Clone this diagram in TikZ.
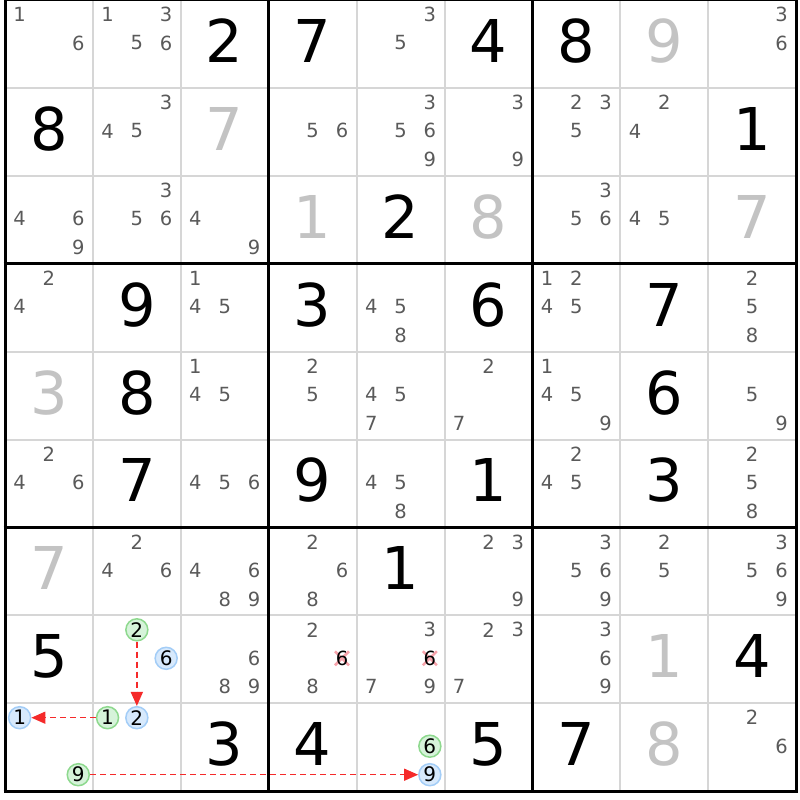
\documentclass[tikz,border=0pt]{standalone}
\usepackage{fontspec}
\setmainfont{DejaVu Sans}
\usetikzlibrary{calc,positioning,arrows.meta}
\definecolor{candgray}{HTML}{5A5A5A}
\definecolor{givengray}{HTML}{C3C3C3}
\definecolor{thingray}{HTML}{D6D6D6}
\definecolor{linkgreen}{HTML}{8ED98E}
\definecolor{fillgreen}{HTML}{D6F3DA}
\definecolor{linkblue}{HTML}{A3CDF7}
\definecolor{fillblue}{HTML}{D7E9FC}
\definecolor{linkred}{HTML}{F52A2A}
\definecolor{crosspink}{HTML}{F7A3AB}

\begin{document}
\begin{tikzpicture}[x=1pt,y=-1pt]
\tikzstyle{cand}=[inner sep=0pt, text=candgray, font=\fontsize{19.5}{19.5}\selectfont]
\tikzstyle{big}=[inner sep=0pt, font=\fontsize{59}{59}\selectfont]
\tikzstyle{gcand}=[circle, draw=linkgreen, fill=fillgreen, line width=1.5pt, minimum size=22pt, inner sep=0pt, font=\fontsize{20}{20}\selectfont]
\tikzstyle{bcand}=[gcand, draw=linkblue, fill=fillblue]
\tikzstyle{link}=[linkred, line width=1.5pt, dash pattern=on 6pt off 4pt, -{Triangle[length=14pt,width=12pt]}]
\def\cs{87.9}
\fill[white] (0,0) rectangle (800,800);
\useasboundingbox (0,0) rectangle (800,800);
% grid
\foreach \i in {1,2,4,5,7,8}{
\draw[thingray, line width=2pt] ({5+\i*\cs},0) -- ({5+\i*\cs},791);
\draw[thingray, line width=2pt] (5,{\i*\cs}) -- (796,{\i*\cs});
}
\foreach \i in {0,3,6,9}{
\draw[line width=3pt] ({5+\i*\cs},-1.5) -- ({5+\i*\cs},792.5);
\draw[line width=3pt] (3.5,{\i*\cs}) -- (797.5,{\i*\cs});
}
% solved and given digits
\foreach \r/\c/\d in {0/2/2, 0/3/7, 0/5/4, 0/6/8, 1/0/8, 1/8/1, 2/4/2, 3/1/9, 3/3/3, 3/5/6, 3/7/7, 4/1/8, 4/7/6, 5/1/7, 5/3/9, 5/5/1, 5/7/3, 6/4/1, 7/0/5, 7/8/4, 8/2/3, 8/3/4, 8/5/5, 8/6/7}{
\node[big] (g\r\c) at ({5+(\c+0.5)*\cs},{(\r+0.5)*\cs-3}) {\d};
}
\foreach \r/\c/\d in {0/7/9, 1/2/7, 2/3/1, 2/5/8, 2/8/7, 4/0/3, 6/0/7, 7/7/1, 8/7/8}{
\node[big, text=givengray] (g\r\c) at ({5+(\c+0.5)*\cs},{(\r+0.5)*\cs-3}) {\d};
}
% candidates
\foreach \r/\c/\ds in {0/0/{1,6}, 0/1/{1,3,5,6}, 0/4/{3,5}, 0/8/{3,6},
 1/1/{3,4,5}, 1/3/{5,6}, 1/4/{3,5,6,9}, 1/5/{3,9}, 1/6/{2,3,5}, 1/7/{2,4},
 2/0/{4,6,9}, 2/1/{3,5,6}, 2/2/{4,9}, 2/6/{3,5,6}, 2/7/{4,5},
 3/0/{2,4}, 3/2/{1,4,5}, 3/4/{4,5,8}, 3/6/{1,2,4,5}, 3/8/{2,5,8},
 4/2/{1,4,5}, 4/3/{2,5}, 4/4/{4,5,7}, 4/5/{2,7}, 4/6/{1,4,5,9}, 4/8/{5,9},
 5/0/{2,4,6}, 5/2/{4,5,6}, 5/4/{4,5,8}, 5/6/{2,4,5}, 5/8/{2,5,8},
 6/1/{2,4,6}, 6/2/{4,6,8,9}, 6/3/{2,6,8}, 6/5/{2,3,9}, 6/6/{3,5,6,9}, 6/7/{2,5}, 6/8/{3,5,6,9},
 7/2/{6,8,9}, 7/3/{2,8}, 7/4/{3,7,9}, 7/5/{2,3,7}, 7/6/{3,6,9},
 8/8/{2,6}}{
\foreach \d in \ds {
\pgfmathsetmacro\px{5+\c*\cs+(2*mod(\d-1,3)+1)*\cs/6}
\pgfmathsetmacro\py{\r*\cs+14.5+28.5*floor((\d-1)/3)}
\node[cand] (k\r\c\d) at (\px,\py) {\d};
}}
% eliminated candidates
\foreach \c in {3,4}{
\pgfmathsetmacro\px{5+\c*\cs+5*\cs/6}
\pgfmathsetmacro\py{7*\cs+43}
\draw[crosspink, line width=2.5pt] (\px-7,\py-7) -- (\px+7,\py+7) (\px-7,\py+7) -- (\px+7,\py-7);
\node[cand, text=black] (k7\c6) at (\px,\py) {6};
}
% chain
\foreach \r/\c/\d/\s in {7/1/2/gcand, 7/1/6/bcand, 8/0/1/bcand, 8/0/9/gcand, 8/1/1/gcand, 8/1/2/bcand, 8/4/6/gcand, 8/4/9/bcand}{
\pgfmathsetmacro\px{5+\c*\cs+(2*mod(\d-1,3)+1)*\cs/6}
\pgfmathsetmacro\py{\r*\cs+14.5+28.5*floor((\d-1)/3)}
\node[\s] (k\r\c\d) at (\px,\py) {\d};
}
\draw[link] (k712) -- (k812);
\draw[link] (k811) -- (k801);
\draw[link] (k809) -- (k849);
\end{tikzpicture}
\end{document}
